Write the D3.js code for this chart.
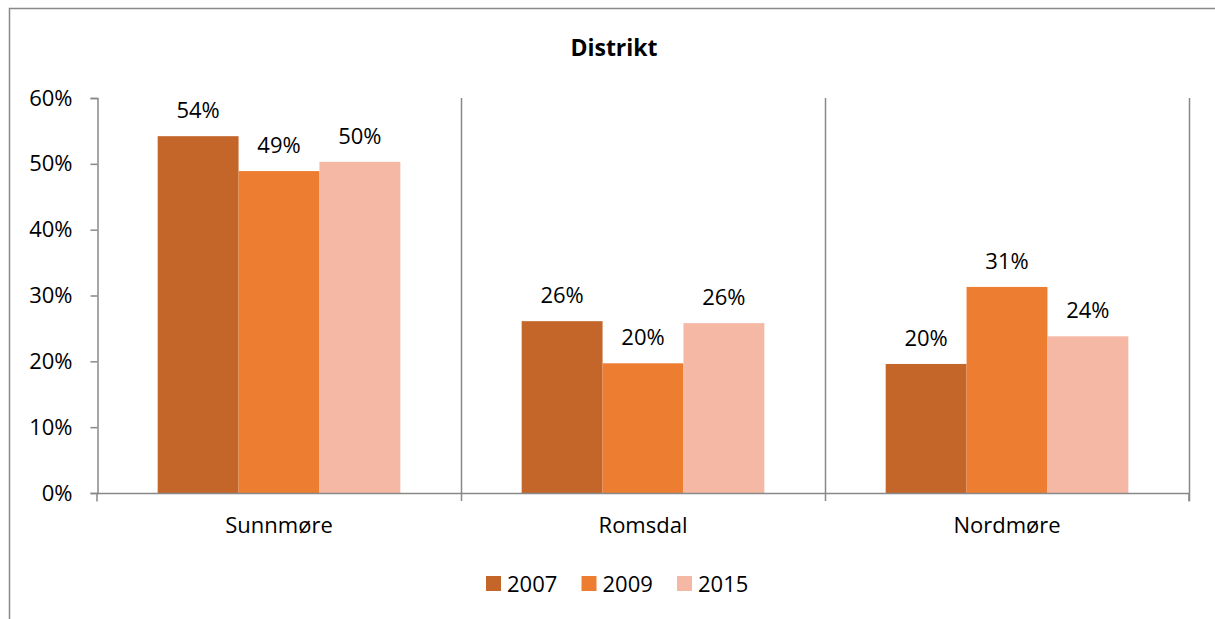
<!DOCTYPE html>
<html lang="no">
<head>
<meta charset="UTF-8">
<title>Distrikt</title>
<script src="https://cdnjs.cloudflare.com/ajax/libs/d3/7.8.5/d3.min.js"></script>
<style>
  body { margin: 0; background: #fff; }
  text { font-family: "Open Sans", "Noto Sans", sans-serif; fill: #000; }
</style>
</head>
<body>
<svg id="chart" width="1215" height="619"></svg>
<script>
// data
const districts = ["Sunnmøre", "Romsdal", "Nordmøre"];
const years = ["2007", "2009", "2015"];
const v2007 = [0.542, 0.261, 0.196];
const v2009 = [0.489, 0.197, 0.313];
const v2015 = [0.503, 0.258, 0.238];
const yTicks = [0, 0.1, 0.2, 0.3, 0.4, 0.5, 0.6];
const colors = ["#C4662A", "#ED7D31", "#F4B8A5"];

const series = [v2007, v2009, v2015];
const rows = [];
districts.forEach((d, i) => {
    years.forEach((y, j) => rows.push({ district: d, year: y, value: series[j][i] }));
});

const svg = d3.select("#chart");
const plotL = 97, plotR = 1189, plotT = 98, plotB = 493;
const fs = 22;

// outer frame (only left and top edges show in the crop)
svg.append("path")
    .attr("d", "M9.5,619 V8.5 H1215")
    .attr("fill", "none").attr("stroke", "#898989").attr("stroke-width", 1.5);

svg.append("text")
    .attr("x", 614).attr("y", 56)
    .attr("text-anchor", "middle")
    .attr("font-size", 23).attr("font-weight", "bold")
    .text("Distrikt");

const x = d3.scaleBand().domain(districts).range([plotL, plotR]);
const xs = d3.scaleBand().domain(years).range([0, x.bandwidth()])
    .paddingOuter(0.75);  // roughly 60px empty each side, bars ~81px
const y = d3.scaleLinear().domain([0, 0.6]).range([plotB, plotT]);

// category separators (vertical lines that run past the axis)
svg.append("g").selectAll("line")
    .data(districts)
    .join("line")
    .attr("x1", d => x(d) + x.bandwidth() + 0.5)
    .attr("x2", d => x(d) + x.bandwidth() + 0.5)
    .attr("y1", plotT).attr("y2", plotB + 8)
    .attr("stroke", "#898989").attr("stroke-width", 1.5);

// bars
svg.append("g").selectAll("rect")
    .data(rows)
    .join("rect")
    .attr("x", d => x(d.district) + xs(d.year))
    .attr("width", xs.bandwidth())
    .attr("y", d => y(d.value))
    .attr("height", d => plotB - y(d.value))
    .attr("fill", d => colors[years.indexOf(d.year)]);

// value labels
svg.append("g").selectAll("text")
    .data(rows)
    .join("text")
    .attr("x", d => x(d.district) + xs(d.year) + xs.bandwidth() / 2)
    .attr("y", d => y(d.value) - 18)
    .attr("text-anchor", "middle")
    .attr("font-size", fs)
    .text(d => Math.round(d.value * 100) + "%");

// y axis
const yAxis = svg.append("g")
    .attr("transform", "translate(" + (plotL + 0.5) + ",0)")
    .call(d3.axisLeft(y).tickValues(yTicks).tickFormat(d3.format(".0%")).tickSize(7).tickPadding(18));
yAxis.selectAll("text").attr("font-size", fs).attr("font-family", "Open Sans");
yAxis.selectAll("line, path").attr("stroke", "#898989").attr("stroke-width", 1.5);

// x axis
const xAxis = svg.append("g")
    .attr("transform", "translate(0," + (plotB + 0.5) + ")")
    .call(d3.axisBottom(x).tickSize(0).tickPadding(24));
xAxis.select(".domain").attr("d", "M" + plotL + ",0H" + plotR + "V8M" + plotL + ",0V8")
    .attr("stroke", "#898989").attr("stroke-width", 1.5);
xAxis.selectAll("text").attr("font-size", fs).attr("font-family", "Open Sans");

// legend
const legend = svg.append("g").selectAll("g")
    .data(years)
    .join("g")
    .attr("transform", (d, i) => "translate(" + (486 + i * 95.5) + ",576)");
legend.append("rect").attr("width", 15).attr("height", 15)
    .attr("fill", (d, i) => colors[i]);
legend.append("text").attr("x", 21).attr("y", 15.5)
    .attr("font-size", fs).text(d => d);
</script>
</body>
</html>
